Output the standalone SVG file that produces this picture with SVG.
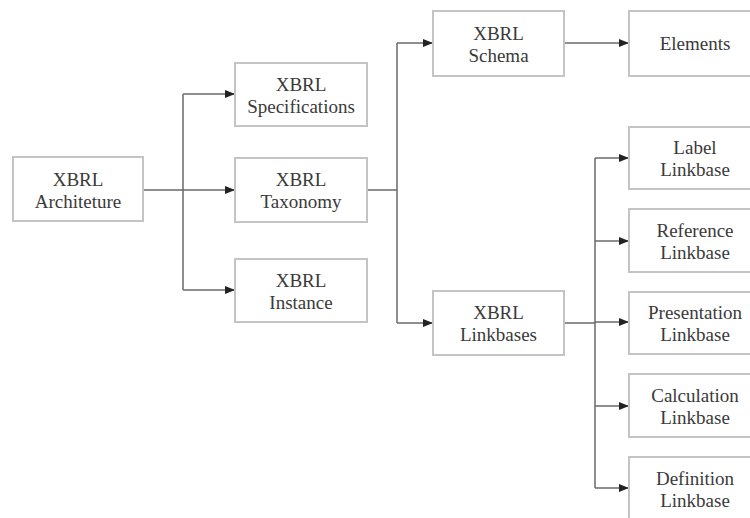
<svg xmlns="http://www.w3.org/2000/svg" width="750" height="518" viewBox="0 0 750 518">
<defs>
<marker id="arr" markerWidth="10" markerHeight="8" refX="10" refY="4" orient="auto" markerUnits="userSpaceOnUse">
<path d="M0,0 L10,4 L0,8 z" fill="#222"/>
</marker>
<style>
.box{fill:#fff;stroke:#c4c4c4;stroke-width:2}
.c{fill:none;stroke:#6a6a6a;stroke-width:1.5}
.a{marker-end:url(#arr)}
</style>
</defs>
<rect width="750" height="518" fill="#fff"/>
<g id="connectors">
<path class="c" d="M143,190 H183 M183,94 V290"/>
<path class="c a" d="M183,94 H235"/>
<path class="c a" d="M183,190 H235"/>
<path class="c a" d="M183,290 H235"/>
<path class="c" d="M367,190 H397 M397,43 V323"/>
<path class="c a" d="M397,43 H433"/>
<path class="c a" d="M397,323 H433"/>
<path class="c a" d="M564,43 H629"/>
<path class="c" d="M564,323 H595 M595,158 V488"/>
<path class="c a" d="M595,158 H629"/>
<path class="c a" d="M595,241 H629"/>
<path class="c a" d="M595,322 H629"/>
<path class="c a" d="M595,406 H629"/>
<path class="c a" d="M595,488 H629"/>
</g>
<g font-family="Liberation Serif, Times New Roman, DejaVu Serif, serif" font-size="19" fill="#3a3a3a" text-anchor="middle">
<g id="architecture"><rect class="box" x="13" y="157" width="130" height="64"/><text x="78" y="186">XBRL</text><text x="78" y="208">Architeture</text></g>
<g id="specifications"><rect class="box" x="235" y="63" width="132" height="63"/><text x="301" y="91">XBRL</text><text x="301" y="113">Specifications</text></g>
<g id="taxonomy"><rect class="box" x="235" y="158" width="132" height="64"/><text x="301" y="186">XBRL</text><text x="301" y="208">Taxonomy</text></g>
<g id="instance"><rect class="box" x="235" y="259" width="132" height="63"/><text x="301" y="287">XBRL</text><text x="301" y="309">Instance</text></g>
<g id="schema"><rect class="box" x="433" y="11" width="131" height="65"/><text x="498.5" y="40">XBRL</text><text x="498.5" y="62">Schema</text></g>
<g id="linkbases"><rect class="box" x="433" y="291" width="131" height="64"/><text x="498.5" y="319">XBRL</text><text x="498.5" y="341">Linkbases</text></g>
<g id="elements"><rect class="box" x="629" y="11" width="132" height="65"/><text x="695" y="50">Elements</text></g>
<g id="label"><rect class="box" x="629" y="127" width="132" height="62"/><text x="695" y="154">Label</text><text x="695" y="176">Linkbase</text></g>
<g id="reference"><rect class="box" x="629" y="209" width="132" height="63"/><text x="695" y="237">Reference</text><text x="695" y="259">Linkbase</text></g>
<g id="presentation"><rect class="box" x="629" y="292" width="132" height="62"/><text x="695" y="319">Presentation</text><text x="695" y="341">Linkbase</text></g>
<g id="calculation"><rect class="box" x="629" y="374" width="132" height="63"/><text x="695" y="402">Calculation</text><text x="695" y="424">Linkbase</text></g>
<g id="definition"><rect class="box" x="629" y="457" width="132" height="63"/><text x="695" y="485">Definition</text><text x="695" y="507">Linkbase</text></g>
</g>
</svg>
